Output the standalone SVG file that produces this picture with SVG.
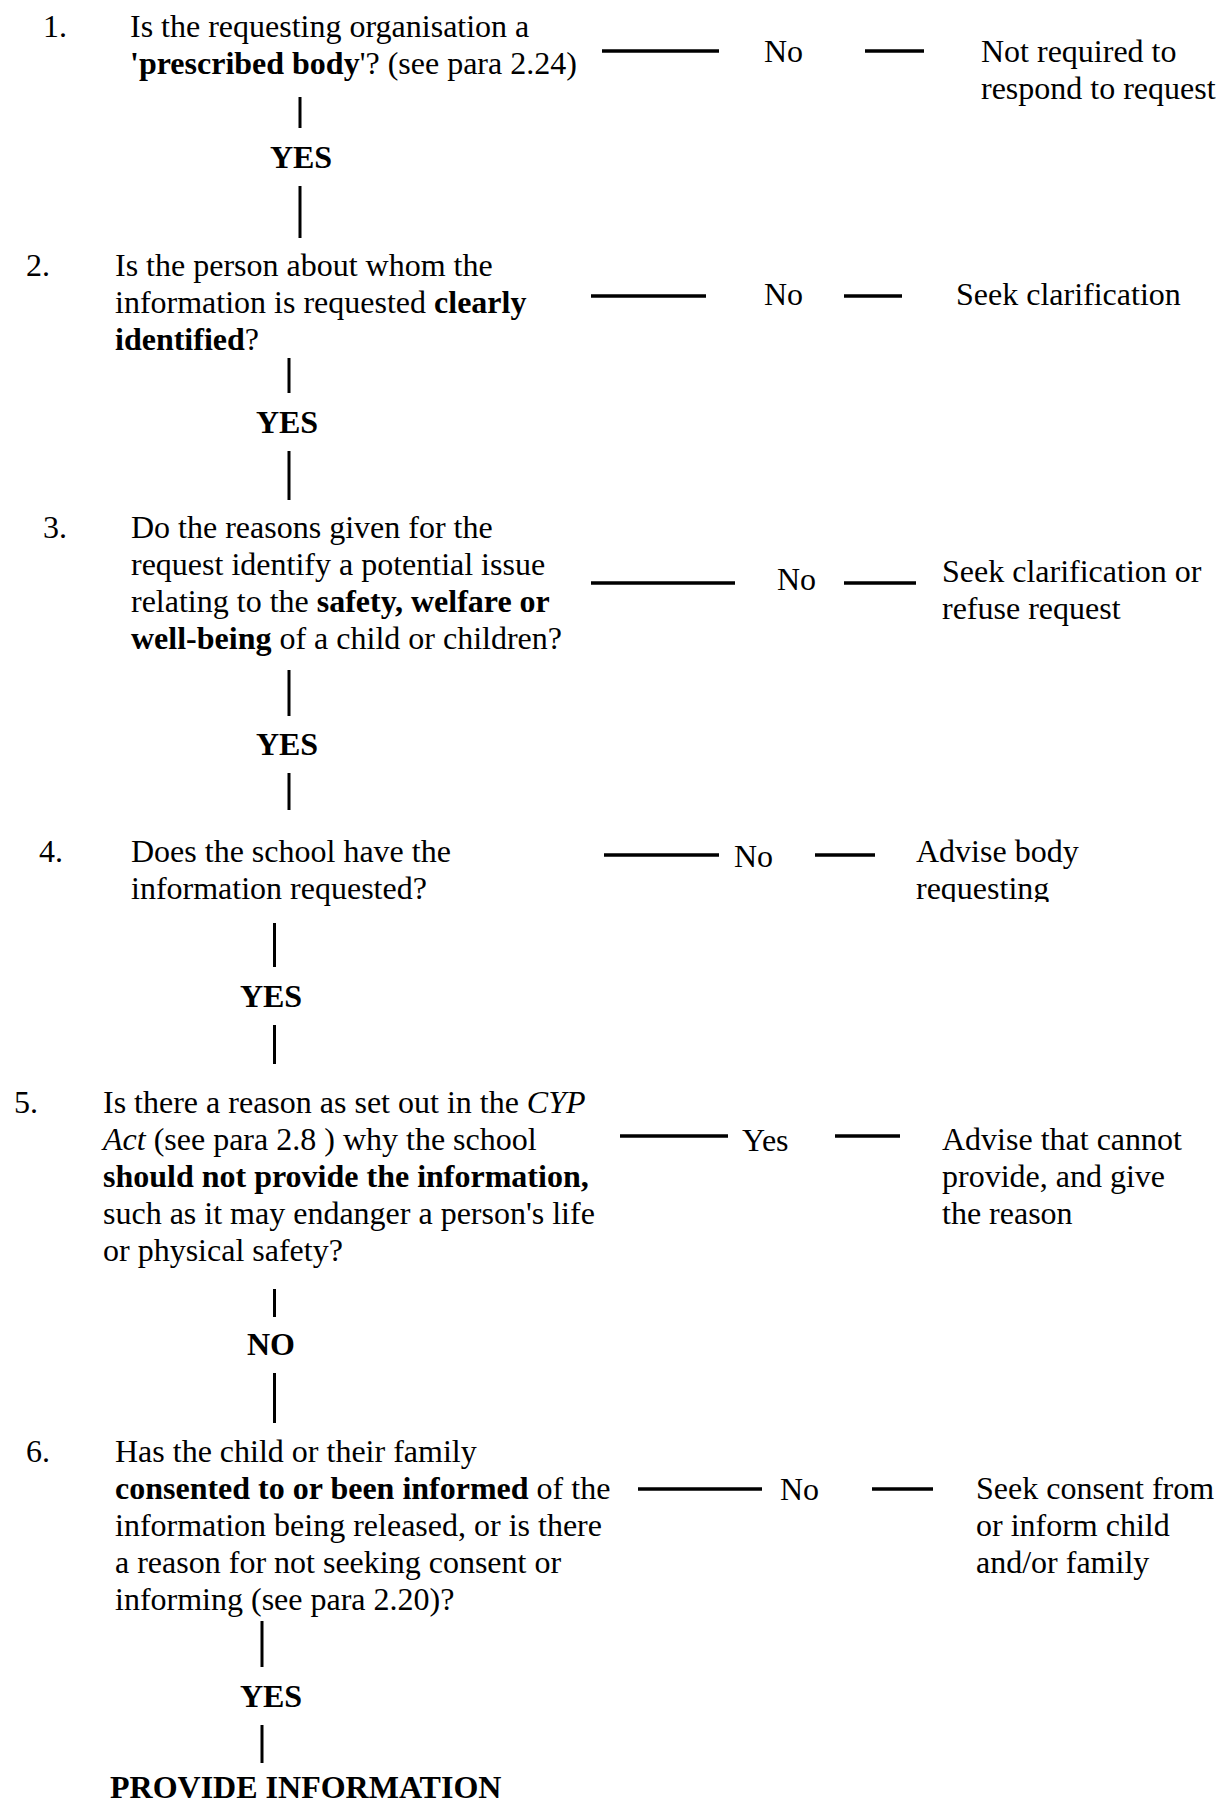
<svg xmlns="http://www.w3.org/2000/svg" width="1216" height="1805" viewBox="0 0 1216 1805">
<style>
text { font-family: "Liberation Serif", "Times New Roman", serif; font-size: 32px; fill: #000; }
.b { font-weight: bold; }
.i { font-style: italic; }
.mid { text-anchor: middle; }
.h { stroke: #000; stroke-width: 3.5; fill: none; }
.v { stroke: #000; stroke-width: 3; fill: none; }
</style>
<defs>
<clipPath id="clip4"><rect x="900" y="820" width="300" height="82"/></clipPath>
</defs>
<rect width="1216" height="1805" fill="#fff"/>

<g id="connectors">
<line class="h" x1="602" y1="51" x2="719" y2="51"/>
<line class="h" x1="865" y1="51" x2="924" y2="51"/>
<line class="v" x1="300" y1="97" x2="300" y2="128"/>
<line class="v" x1="300" y1="186" x2="300" y2="238"/>

<line class="h" x1="591" y1="296" x2="706" y2="296"/>
<line class="h" x1="844" y1="296" x2="902" y2="296"/>
<line class="v" x1="289" y1="358" x2="289" y2="393"/>
<line class="v" x1="289" y1="451" x2="289" y2="500"/>

<line class="h" x1="591" y1="583" x2="735" y2="583"/>
<line class="h" x1="844" y1="583" x2="916" y2="583"/>
<line class="v" x1="289" y1="670" x2="289" y2="716"/>
<line class="v" x1="289" y1="773" x2="289" y2="810"/>

<line class="h" x1="604" y1="855" x2="719" y2="855"/>
<line class="h" x1="815" y1="855" x2="875" y2="855"/>
<line class="v" x1="274.5" y1="923" x2="274.5" y2="967"/>
<line class="v" x1="274.5" y1="1025" x2="274.5" y2="1064"/>

<line class="h" x1="620" y1="1136" x2="728" y2="1136"/>
<line class="h" x1="835" y1="1136" x2="900" y2="1136"/>
<line class="v" x1="274.5" y1="1289" x2="274.5" y2="1317"/>
<line class="v" x1="274.5" y1="1373" x2="274.5" y2="1423"/>

<line class="h" x1="638" y1="1489" x2="762" y2="1489"/>
<line class="h" x1="872" y1="1489" x2="933" y2="1489"/>
<line class="v" x1="262" y1="1621" x2="262" y2="1667"/>
<line class="v" x1="262" y1="1725" x2="262" y2="1763"/>
</g>

<g id="q1">
<text x="43" y="37">1.</text>
<text x="130" y="37">Is the requesting organisation a</text>
<text x="130" y="74"><tspan class="b">'prescribed body</tspan>'? (see para 2.24)</text>
</g>
<g id="no1"><text x="764" y="62">No</text></g>
<g id="out1">
<text x="981" y="62">Not required to</text>
<text x="981" y="99">respond to request</text>
</g>
<g id="yes1"><text class="b mid" x="301" y="168">YES</text></g>

<g id="q2">
<text x="26" y="276">2.</text>
<text x="115" y="276">Is the person about whom the</text>
<text x="115" y="313">information is requested <tspan class="b">clearly</tspan></text>
<text x="115" y="350"><tspan class="b">identified</tspan>?</text>
</g>
<g id="no2"><text x="764" y="305">No</text></g>
<g id="out2"><text x="956" y="305">Seek clarification</text></g>
<g id="yes2"><text class="b mid" x="287" y="433">YES</text></g>

<g id="q3">
<text x="43" y="538">3.</text>
<text x="131" y="538">Do the reasons given for the</text>
<text x="131" y="575">request identify a potential issue</text>
<text x="131" y="612">relating to the <tspan class="b">safety, welfare or</tspan></text>
<text x="131" y="649"><tspan class="b">well-being</tspan> of a child or children?</text>
</g>
<g id="no3"><text x="777" y="590">No</text></g>
<g id="out3">
<text x="942" y="582">Seek clarification or</text>
<text x="942" y="619">refuse request</text>
</g>
<g id="yes3"><text class="b mid" x="287" y="755">YES</text></g>

<g id="q4">
<text x="39" y="862">4.</text>
<text x="131" y="862">Does the school have the</text>
<text x="131" y="899">information requested?</text>
</g>
<g id="no4"><text x="734" y="867">No</text></g>
<g id="out4" clip-path="url(#clip4)">
<text x="916" y="862">Advise body</text>
<text x="916" y="899">requesting</text>
</g>
<g id="yes4"><text class="b mid" x="271" y="1007">YES</text></g>

<g id="q5">
<text x="14" y="1113">5.</text>
<text x="103" y="1113">Is there a reason as set out in the <tspan class="i">CYP</tspan></text>
<text x="103" y="1150"><tspan class="i">Act</tspan> (see para 2.8 ) why the school</text>
<text x="103" y="1187"><tspan class="b">should not provide the information,</tspan></text>
<text x="103" y="1224">such as it may endanger a person's life</text>
<text x="103" y="1261">or physical safety?</text>
</g>
<g id="yes5"><text x="742" y="1151">Yes</text></g>
<g id="out5">
<text x="942" y="1150">Advise that cannot</text>
<text x="942" y="1187">provide, and give</text>
<text x="942" y="1224">the reason</text>
</g>
<g id="no5"><text class="b mid" x="271" y="1355">NO</text></g>

<g id="q6">
<text x="26" y="1462">6.</text>
<text x="115" y="1462">Has the child or their family</text>
<text x="115" y="1499"><tspan class="b">consented to or been informed</tspan> of the</text>
<text x="115" y="1536">information being released, or is there</text>
<text x="115" y="1573">a reason for not seeking consent or</text>
<text x="115" y="1610">informing (see para 2.20)?</text>
</g>
<g id="no6"><text x="780" y="1500">No</text></g>
<g id="out6">
<text x="976" y="1499">Seek consent from</text>
<text x="976" y="1536">or inform child</text>
<text x="976" y="1573">and/or family</text>
</g>
<g id="yes6"><text class="b mid" x="271" y="1707">YES</text></g>

<g id="provide"><text class="b" x="110" y="1798">PROVIDE INFORMATION</text></g>
</svg>
